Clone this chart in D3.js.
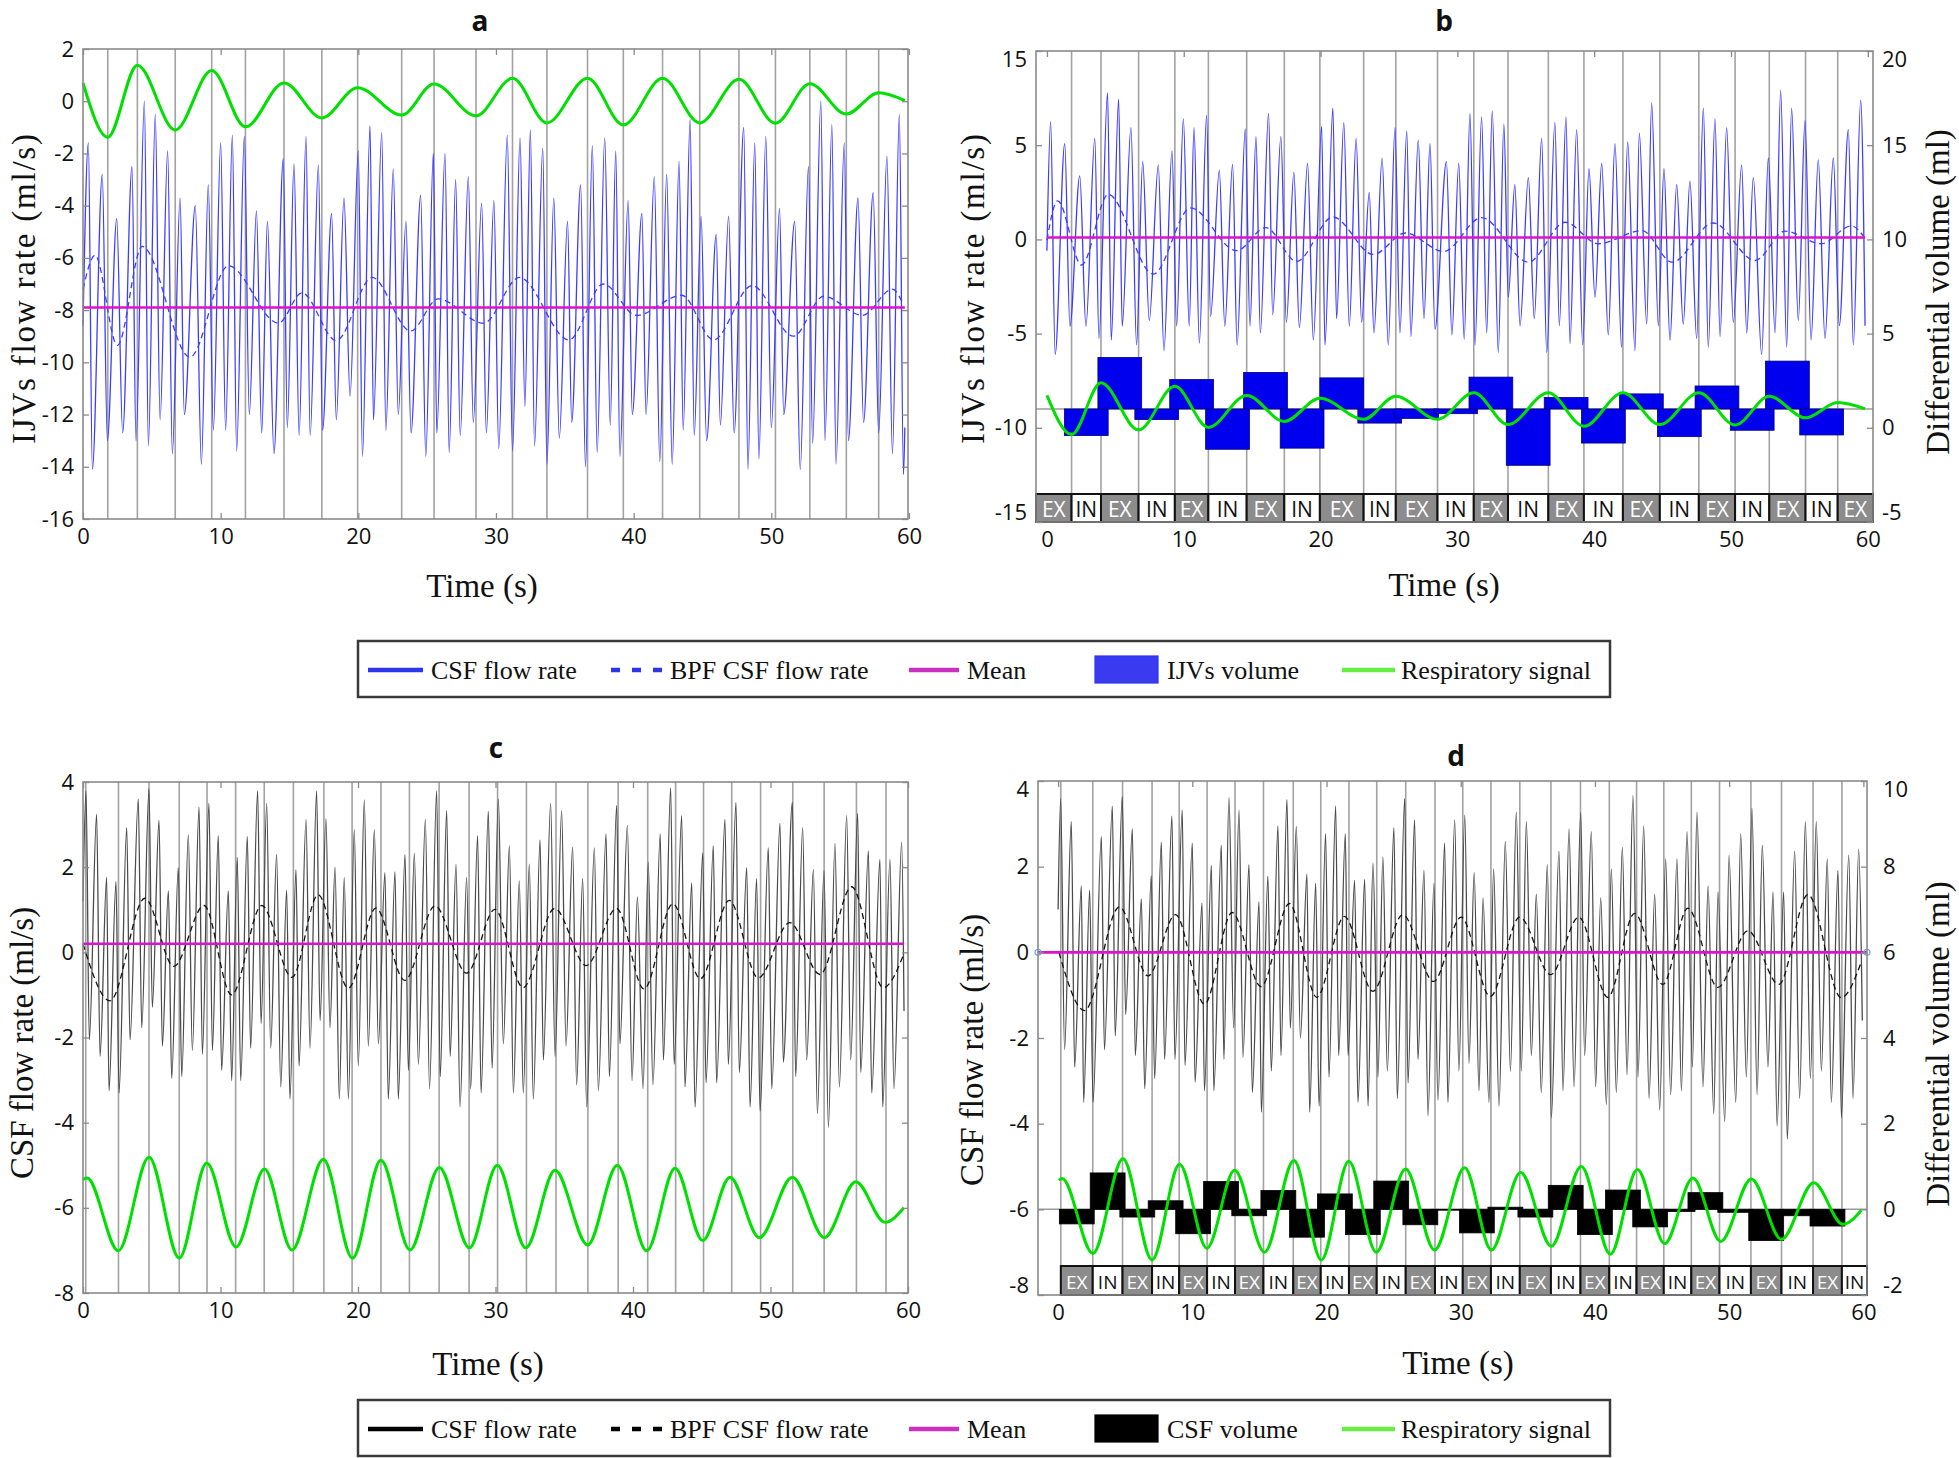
<!DOCTYPE html>
<html>
<head>
<meta charset="utf-8">
<title>IJVs and CSF flow rate vs respiration</title>
<script src="https://cdn.jsdelivr.net/npm/d3@7"></script>
<style>
  body { margin: 0; background: #fff; }
  .tick text { font-family: "Open Sans", sans-serif; font-size: 22px; fill: #111; }
  .axis-title { font-family: "Liberation Serif", serif; font-size: 33px; fill: #111; }
  .panel-title { font-family: "Open Sans", sans-serif; font-size: 28px; font-weight: bold; fill: #111; }
  .legend-text { font-family: "Liberation Serif", serif; font-size: 26px; fill: #111; }
  .strip-text { font-family: "Open Sans", sans-serif; font-size: 20px; }
</style>
</head>
<body>
<svg id="fig" width="1959" height="1458"></svg>
<script>
// ---------- data (time in s) ----------
var xTicks = [0, 10, 20, 30, 40, 50, 60];

// respiratory phase boundaries (grey vertical lines)
var phaseAB = [1.8, 3.95, 6.7, 9.35, 11.8, 14.6, 17.35, 19.95, 23.15, 25.5, 28.55, 31.2, 33.7, 36.65, 39.25, 42.1, 44.8, 47.65, 50.3, 52.8, 55.45, 57.8];
var phaseCD = [0.2, 2.58, 4.8, 7.0, 9.02, 11.1, 13.18, 15.3, 17.52, 19.57, 21.67, 23.74, 25.9, 28.08, 30.15, 32.25, 34.4, 36.72, 38.92, 41.07, 43.1, 45.13, 47.18, 49.28, 51.62, 53.9, 56.25, 58.4];
var phaseNames = ["EX", "IN"];

// panel a: IJVs flow rate (ml/s)
var aYTicks = [-16, -14, -12, -10, -8, -6, -4, -2, 0, 2];
var aFlow = [[0,-8.6],[0.39,-1.6],[0.68,-14.1],[1.4,-2.8],[1.77,-13.0],[2.45,-4.5],[2.88,-12.7],[3.56,-2.5],[3.85,-13.0],[4.46,0.0],[4.75,-13.2],[5.25,-0.5],[5.6,-12.2],[6.15,-1.9],[6.49,-13.5],[7.05,-3.7],[7.36,-12.0],[8.16,-4.0],[8.6,-13.9],[9.1,-3.2],[9.47,-12.6],[10.0,-1.6],[10.36,-12.6],[10.85,-1.3],[11.16,-13.4],[11.72,-1.35],[12.08,-12.0],[12.6,-4.2],[12.98,-12.7],[13.4,-4.6],[13.87,-13.5],[14.55,-2.2],[14.84,-12.5],[15.33,-2.4],[15.7,-12.8],[16.2,-1.35],[16.5,-12.8],[17.1,-2.45],[17.4,-12.6],[18.06,-4.3],[18.4,-12.2],[18.96,-3.7],[19.4,-11.3],[20.0,-1.9],[20.3,-13.6],[20.85,-0.95],[21.1,-12.2],[21.7,-1.2],[22.0,-12.6],[22.54,-2.6],[22.9,-12.0],[23.46,-4.6],[23.83,-12.7],[24.53,-3.6],[24.9,-13.6],[25.45,-2.0],[25.7,-12.7],[26.3,-2.0],[26.6,-13.45],[27.07,-3.0],[27.4,-12.8],[27.99,-2.9],[28.35,-12.3],[28.96,-3.9],[29.3,-12.7],[29.85,-3.8],[30.2,-13.3],[30.82,-1.3],[31.2,-13.4],[31.75,-1.4],[32.1,-11.7],[32.5,-1.1],[32.8,-13.2],[33.4,-1.8],[33.7,-13.9],[34.2,-3.7],[34.6,-12.9],[35.2,-4.6],[35.5,-12.3],[36.15,-3.2],[36.5,-14.0],[37.0,-1.7],[37.35,-13.45],[37.9,-1.4],[38.3,-12.4],[38.7,-1.9],[39.0,-13.6],[39.6,-3.8],[39.9,-12.0],[40.6,-4.3],[40.9,-12.0],[41.5,-2.9],[41.9,-13.8],[42.4,-2.8],[42.8,-13.9],[43.3,-2.3],[43.6,-12.6],[44.1,-0.7],[44.4,-12.8],[44.9,-4.4],[45.3,-13.0],[46.0,-5.1],[46.3,-12.4],[46.9,-4.4],[47.3,-12.7],[48.0,-1.0],[48.3,-14.1],[48.8,-1.6],[49.1,-13.7],[49.6,-1.35],[50.0,-12.5],[50.6,-4.1],[50.9,-12.0],[51.7,-4.6],[52.1,-14.1],[52.7,-2.5],[53.0,-13.1],[53.6,0.0],[53.9,-13.0],[54.4,-0.9],[54.7,-13.9],[55.3,-1.6],[55.6,-13.0],[56.3,-3.7],[56.7,-12.3],[57.4,-3.5],[57.8,-12.7],[58.4,-2.1],[58.8,-13.5],[59.3,-0.5],[59.6,-14.3],[59.7,-12.5]];
var aBpf = [[0,-7.2],[0.87,-5.9],[2.5,-9.35],[4.3,-5.56],[7.77,-9.8],[10.56,-6.3],[14.2,-8.5],[15.9,-7.34],[18.4,-9.17],[21.0,-6.75],[23.8,-8.8],[25.8,-7.57],[29.1,-8.5],[31.7,-6.75],[35.3,-9.14],[37.8,-7.0],[40.2,-8.2],[43.5,-7.43],[45.8,-9.14],[48.6,-7.06],[51.6,-9.0],[53.8,-7.47],[56.6,-8.2],[58.8,-7.2],[59.6,-7.8]];
var aResp = [[0,0.7],[1.8,-1.38],[3.95,1.38],[6.7,-1.1],[9.35,1.18],[11.8,-0.98],[14.6,0.7],[17.35,-0.64],[19.95,0.52],[23.15,-0.53],[25.5,0.66],[28.55,-0.56],[31.2,0.88],[33.7,-0.83],[36.65,0.88],[39.25,-0.91],[42.1,0.88],[44.8,-0.83],[47.65,0.84],[50.3,-0.84],[52.8,0.67],[55.45,-0.49],[57.8,0.32],[59.7,0.02]];
var aMean = -7.9;

// panel b: IJVs flow rate (left) and differential volume (right, ml)
var bYTicks = [-15, -10, -5, 0, 5, 10];
var bYTickLabels = ["-15", "-10", "-5", "0", "5", "15"];
var bY2Ticks = [-5, 0, 5, 10, 15, 20];
var bFlow = [[0,-0.6],[0.27,6.25],[0.6,-6.1],[1.3,5.08],[1.68,-4.6],[2.4,3.37],[2.85,-4.6],[3.5,5.36],[3.8,-5.25],[4.43,7.77],[4.7,-5.34],[5.24,7.44],[5.5,-4.6],[6.14,5.93],[6.55,-5.6],[7.0,4.13],[7.48,-4.3],[8.14,3.94],[8.55,-5.9],[9.14,4.7],[9.48,-4.6],[9.97,6.4],[10.4,-4.6],[10.75,5.93],[11.14,-5.5],[11.67,6.6],[11.96,-4.1],[12.6,3.66],[13.0,-4.6],[13.57,3.98],[13.9,-5.6],[14.5,5.87],[14.84,-4.6],[15.28,5.45],[15.6,-4.96],[16.2,6.69],[16.5,-4.0],[17.1,5.45],[17.5,-4.4],[18.05,3.56],[18.45,-4.68],[19.05,4.03],[19.47,-5.34],[20.08,6.0],[20.32,-5.6],[20.9,6.97],[21.17,-4.2],[21.7,6.2],[22.1,-4.6],[22.6,5.36],[23.0,-4.4],[23.56,2.5],[23.9,-4.96],[24.5,4.3],[24.95,-5.6],[25.44,5.93],[25.8,-4.96],[26.3,5.74],[26.6,-5.15],[27.14,5.27],[27.56,-4.2],[28.0,5.08],[28.36,-4.77],[29.2,4.13],[29.6,-5.06],[30.1,4.03],[30.5,-5.3],[30.92,6.69],[31.29,-5.6],[31.77,6.5],[32.14,-4.96],[32.55,6.82],[32.99,-6.0],[33.4,6.12],[33.72,-3.07],[34.2,2.9],[34.58,-4.58],[35.19,3.28],[35.62,-4.2],[36.16,5.36],[36.53,-6.0],[37.13,6.21],[37.45,-4.58],[37.94,6.5],[38.23,-5.53],[38.72,5.83],[39.16,-5.6],[39.62,3.75],[40.06,-3.07],[40.55,4.03],[41.03,-5.06],[41.52,5.08],[42.0,-5.72],[42.45,5.17],[42.98,-5.9],[43.3,5.64],[43.84,-4.49],[44.2,7.25],[44.69,-4.58],[45.1,3.75],[45.54,-5.34],[46.03,2.9],[46.51,-4.49],[47.0,3.09],[47.49,-5.25],[47.98,6.97],[48.34,-5.72],[48.83,6.4],[49.2,-5.15],[49.68,5.93],[50.17,-4.4],[50.78,3.94],[51.15,-4.96],[51.63,3.28],[52.24,-6.1],[52.73,4.32],[53.22,-4.96],[53.63,7.92],[54.07,-5.72],[54.43,6.97],[54.92,-4.3],[55.41,6.3],[55.85,-5.34],[56.38,4.22],[56.87,-5.25],[57.48,4.32],[57.92,-4.58],[58.58,5.83],[58.94,-5.6],[59.48,7.39],[59.8,-4.58]];
var bBpf = [[0,-0.04],[0.78,2.05],[2.53,-1.36],[4.48,2.39],[7.77,-1.84],[10.5,1.67],[13.86,-0.6],[16.0,0.63],[18.25,-1.17],[20.9,1.19],[23.85,-0.8],[26.2,0.34],[29.0,-0.64],[31.77,1.16],[35.19,-1.21],[37.87,0.91],[40.3,-0.23],[43.5,0.47],[45.7,-1.21],[48.7,0.87],[51.76,-1.12],[53.95,0.44],[56.6,-0.23],[58.8,0.72],[59.7,0.15]];
var bResp = [[0,1.72],[1.8,-0.36],[3.95,2.39],[6.7,-0.11],[9.35,2.2],[11.8,0.02],[14.6,1.72],[17.35,0.34],[19.95,1.57],[23.15,0.45],[25.5,1.67],[28.55,0.45],[31.2,1.86],[33.7,0.17],[36.65,1.86],[39.25,0.08],[42.1,1.86],[44.8,0.17],[47.65,1.86],[50.3,0.15],[52.8,1.67],[55.45,0.53],[57.8,1.34],[59.8,1.0]];
var bMean = 0.1;
var bVolume = [-0.41, 3.73, 0.44, 2.56, -1.14, 2.94, -1.08, 2.65, 0.25, 0.5, 0.75, 2.69, -1.99, 1.61, -0.81, 1.8, -0.47, 2.22, -0.13, 3.54, -0.38];
var bVolumeBase = 1;

// panel c: CSF flow rate (ml/s)
var cdYTicks = [-8, -6, -4, -2, 0, 2, 4];
var cFlow = [[0,1.2],[0.22,3.79],[0.46,-2.05],[0.99,3.24],[1.24,-2.44],[1.72,1.76],[1.89,-3.25],[2.4,1.66],[2.62,-3.3],[3.18,2.93],[3.42,-2.05],[4.02,3.6],[4.27,-1.77],[4.8,3.84],[5.04,-1.29],[5.53,3.1],[5.77,-2.2],[6.21,1.44],[6.45,-2.96],[6.93,1.99],[7.18,-2.92],[7.66,2.76],[7.95,-2.3],[8.44,3.41],[8.68,-2.39],[9.16,3.5],[9.41,-2.3],[9.84,2.74],[10.08,-2.77],[10.57,1.44],[10.81,-3.01],[11.22,2.23],[11.47,-3.01],[11.95,2.72],[12.19,-2.25],[12.7,3.79],[12.95,-1.67],[13.36,3.5],[13.65,-2.25],[14.08,2.3],[14.38,-3.16],[14.81,1.46],[15.05,-3.44],[15.49,1.94],[15.71,-2.67],[16.22,3.12],[16.51,-2.25],[16.99,3.79],[17.24,-1.6],[17.67,3.14],[17.96,-1.77],[18.33,2.0],[18.64,-3.44],[19.0,1.76],[19.3,-3.44],[19.73,2.88],[20.02,-2.67],[20.46,3.58],[20.75,-2.2],[21.19,2.88],[21.48,-2.15],[21.96,1.87],[22.2,-3.44],[22.69,1.89],[22.93,-3.44],[23.42,2.3],[23.66,-2.77],[24.1,2.33],[24.39,-2.63],[24.9,3.12],[25.2,-3.2],[25.72,3.79],[25.98,-2.92],[26.45,3.33],[26.7,-2.44],[27.13,2.07],[27.42,-3.63],[27.9,1.76],[28.19,-3.2],[28.7,2.74],[28.95,-3.3],[29.48,3.31],[29.75,-2.72],[30.21,3.6],[30.57,-2.15],[31.01,2.5],[31.3,-3.3],[31.73,1.68],[32.02,-3.3],[32.46,2.07],[32.75,-3.44],[33.24,2.64],[33.48,-2.53],[34.01,3.5],[34.33,-2.44],[34.81,3.33],[35.13,-2.2],[35.61,2.47],[35.9,-3.11],[36.34,1.73],[36.63,-3.63],[37.19,2.45],[37.48,-3.25],[38.04,2.78],[38.28,-2.92],[38.81,3.45],[39.05,-2.15],[39.59,2.98],[39.93,-3.01],[40.32,1.3],[40.73,-3.2],[41.11,2.11],[41.45,-3.11],[41.98,2.78],[42.21,-2.53],[42.74,3.86],[42.99,-2.63],[43.54,3.21],[43.78,-3.16],[44.27,1.63],[44.51,-3.63],[45.07,2.33],[45.31,-3.06],[45.84,2.5],[46.08,-3.06],[46.69,3.12],[46.93,-2.63],[47.49,3.52],[47.73,-2.82],[48.27,1.99],[48.51,-3.63],[48.99,1.73],[49.24,-3.73],[49.84,2.45],[50.09,-3.2],[50.69,3.03],[50.93,-2.58],[51.59,3.52],[51.83,-2.92],[52.34,2.93],[52.63,-2.53],[53.12,1.95],[53.41,-3.78],[53.89,1.92],[54.21,-4.11],[54.69,2.56],[55.01,-3.16],[55.54,3.21],[55.83,-2.53],[56.34,3.26],[56.56,-2.82],[57.12,2.38],[57.36,-3.3],[57.96,2.18],[58.16,-3.63],[58.69,2.18],[58.98,-3.2],[59.54,2.59],[59.71,-1.38]];
var cBpf = [[0,0.2],[1.96,-1.14],[4.5,1.27],[6.6,-0.33],[8.8,1.1],[10.8,-1.0],[13.0,1.1],[15.2,-0.59],[17.1,1.35],[19.3,-0.84],[21.3,1.04],[23.4,-0.66],[25.6,1.09],[27.9,-0.49],[29.96,1.01],[32.0,-0.83],[34.3,1.03],[36.6,-0.31],[38.8,1.03],[40.8,-0.86],[42.9,1.14],[44.9,-0.62],[47.0,1.22],[49.1,-0.6],[51.4,0.7],[53.6,-0.52],[55.9,1.54],[58.2,-0.83],[59.7,-0.04]];
var cResp = [[0,-5.33],[0.3,-5.3],[2.57,-7.01],[4.8,-4.81],[7.0,-7.18],[9.0,-4.95],[11.13,-6.92],[13.2,-5.09],[15.2,-6.99],[17.48,-4.86],[19.6,-7.18],[21.67,-4.88],[23.78,-6.99],[25.92,-5.05],[28.1,-6.94],[30.13,-5.0],[32.2,-6.94],[34.33,-5.12],[36.7,-6.87],[38.86,-5.0],[41.0,-7.01],[43.06,-5.07],[45.07,-6.77],[47.05,-5.28],[49.19,-6.7],[51.59,-5.28],[53.92,-6.7],[56.2,-5.39],[58.33,-6.34],[59.7,-6.0]];
var cMean = 0.2;

// panel d: CSF flow rate (left) and differential volume (right, ml)
var dY2Ticks = [-2, 0, 2, 4, 6, 8, 10];
var dFlow = [[0,1.0],[0.19,3.59],[0.48,-2.27],[0.98,3.05],[1.23,-2.68],[1.73,1.55],[1.9,-3.5],[2.35,1.45],[2.6,-3.5],[3.22,2.7],[3.45,-2.27],[4.04,3.41],[4.25,-1.95],[4.78,3.64],[5.03,-1.45],[5.53,2.88],[5.75,-2.41],[6.2,1.25],[6.45,-3.18],[6.94,1.79],[7.19,-2.95],[7.69,2.57],[7.93,-2.5],[8.48,3.18],[8.7,-2.5],[9.25,3.32],[9.45,-2.64],[10.0,2.55],[10.2,-3.03],[10.72,1.15],[10.9,-3.23],[11.42,2.03],[11.6,-3.23],[12.16,2.5],[12.35,-2.5],[12.73,3.61],[13.08,-1.77],[13.48,3.32],[13.77,-2.45],[14.22,2.05],[14.47,-3.27],[14.97,1.18],[15.14,-3.73],[15.63,1.77],[15.88,-2.77],[16.38,2.95],[16.6,-2.41],[17.05,3.57],[17.3,-1.77],[17.75,2.94],[18.05,-2.0],[18.54,1.82],[18.74,-3.73],[19.19,1.61],[19.44,-3.59],[19.93,2.77],[20.18,-2.91],[20.68,3.41],[20.9,-2.41],[21.4,2.77],[21.6,-2.41],[22.09,1.68],[22.34,-3.5],[22.84,1.7],[23.09,-3.59],[23.46,2.09],[23.83,-2.91],[24.2,2.23],[24.53,-2.77],[25.02,2.91],[25.27,-3.41],[25.82,3.59],[26.07,-3.05],[26.56,3.09],[26.81,-2.5],[27.26,1.91],[27.56,-3.82],[28.0,1.61],[28.3,-3.45],[28.8,2.55],[29.04,-3.5],[29.55,3.09],[29.86,-2.77],[30.3,3.2],[30.61,-2.59],[31.0,1.86],[31.36,-3.23],[31.66,1.27],[32.1,-3.5],[32.45,1.95],[32.85,-3.59],[33.32,2.59],[33.7,-2.77],[34.14,3.27],[34.51,-2.77],[34.89,3.05],[35.26,-2.41],[35.63,1.36],[36.0,-3.27],[36.45,2.05],[36.75,-3.86],[37.32,2.36],[37.62,-3.23],[38.07,2.88],[38.44,-3.14],[38.94,3.27],[39.23,-2.41],[39.73,2.82],[40.05,-3.14],[40.43,1.27],[40.85,-3.55],[41.22,1.95],[41.59,-3.27],[42.04,2.45],[42.39,-2.86],[42.83,3.66],[43.21,-2.91],[43.63,2.95],[44.03,-3.41],[44.45,1.36],[44.82,-3.68],[45.27,2.18],[45.64,-3.32],[46.11,2.18],[46.44,-3.23],[46.86,2.82],[47.26,-2.68],[47.6,3.27],[48.05,-3.14],[48.43,1.55],[48.85,-3.77],[49.17,1.41],[49.67,-3.95],[49.99,2.27],[50.49,-3.5],[50.86,2.77],[51.28,-2.91],[51.7,3.36],[52.08,-3.32],[52.47,2.5],[52.89,-2.68],[53.27,1.41],[53.57,-4.05],[54.06,1.41],[54.33,-4.36],[54.88,2.36],[55.25,-3.41],[55.68,3.05],[56.05,-2.95],[56.49,3.05],[56.87,-2.77],[57.31,2.18],[57.61,-3.5],[58.11,1.91],[58.36,-3.86],[58.91,2.27],[59.23,-3.41],[59.65,2.41],[59.92,-1.59]];
var dBpf = [[0.06,0],[1.96,-1.36],[4.57,1.06],[6.7,-0.55],[8.75,0.88],[10.9,-1.21],[12.96,0.93],[15.12,-0.8],[17.23,1.14],[19.27,-1.05],[21.33,0.84],[23.45,-0.91],[25.68,0.88],[27.97,-0.68],[30.03,0.82],[32.2,-1.03],[34.39,0.82],[36.7,-0.52],[38.8,0.82],[40.96,-1.05],[42.95,0.91],[45.06,-0.75],[46.92,1.03],[49.16,-0.82],[51.4,0.5],[53.7,-0.75],[55.87,1.35],[58.35,-1.06],[59.84,-0.23]];
var dResp = [[0.06,0.68],[0.3,0.72],[2.59,-1.03],[4.83,1.18],[7.0,-1.18],[9.05,1.05],[11.08,-0.91],[13.15,0.91],[15.38,-1.0],[17.57,1.14],[19.61,-1.18],[21.66,1.12],[23.7,-1.0],[25.89,0.94],[28.05,-0.95],[30.29,0.97],[32.28,-0.95],[34.46,0.86],[36.75,-0.86],[38.98,1.0],[41.15,-1.05],[43.16,0.93],[45.19,-0.8],[47.3,0.73],[49.37,-0.75],[51.65,0.71],[53.89,-0.7],[56.3,0.62],[58.48,-0.35],[59.85,-0.02]];
var dMean = 0;
var dVolume = [-0.34, 0.85, -0.18, 0.2, -0.57, 0.65, -0.15, 0.44, -0.65, 0.36, -0.59, 0.66, -0.36, -0.02, -0.55, 0.05, -0.18, 0.56, -0.59, 0.45, -0.41, -0.05, 0.39, -0.07, -0.73, -0.15, -0.39];
var dVolumeBase = 0;

// legends
var legendTopLabels = ["CSF flow rate", "BPF CSF flow rate", "Mean", "IJVs volume", "Respiratory signal"];
var legendBottomLabels = ["CSF flow rate", "BPF CSF flow rate", "Mean", "CSF volume", "Respiratory signal"];

// ---------- drawing ----------
var svg = d3.select("#fig");
var GREEN = "#00e000", MAGENTA = "#e010d0";
var plainNumber = function(d) { return String(d); };   // hyphen minus, as in the figure

function curveLine(x, y) {
    return d3.line().x(function(d) { return x(d[0]); }).y(function(d) { return y(d[1]); }).curve(d3.curveMonotoneX);
}

function styleAxis(sel) {
    sel.select(".domain").remove();
    sel.selectAll(".tick line").attr("stroke", "#8a8a8a").attr("stroke-width", 1.3);
}

function drawPanel(p) {
    var L = p.box[0], T = p.box[1], R = p.box[2], B = p.box[3];
    var x = d3.scaleLinear().domain(p.xDomain).range([L, R]);
    var y = d3.scaleLinear().domain(p.yDomain).range([B, T]);
    var y2 = p.y2Domain ? d3.scaleLinear().domain(p.y2Domain).range([B, T]) : y;
    var stripTop = p.stripH ? B - p.stripH : B;
    var g = svg.append("g");

    // respiratory phase lines
    g.selectAll("line.phase").data(p.phases).enter().append("line")
        .attr("x1", function(d) { return x(d); }).attr("x2", function(d) { return x(d); })
        .attr("y1", T).attr("y2", stripTop)
        .attr("stroke", "#a2a2a2").attr("stroke-width", 1.6);

    // volume bars
    if (p.volume) {
        var base = p.volumeBase;
        g.append("line").attr("x1", L).attr("x2", R)
            .attr("y1", y2(base)).attr("y2", y2(base))
            .attr("stroke", "#9a9a9a").attr("stroke-width", 1.5);
        var mids = p.volume.map(function(v, i) { return (p.phases[i] + p.phases[i + 1]) / 2; });
        g.selectAll("rect.vol").data(p.volume).enter().append("rect")
            .attr("x", function(d, i) { return x(mids[i] - p.barW / 2); })
            .attr("width", function(d, i) { return x(mids[i] + p.barW / 2) - x(mids[i] - p.barW / 2); })
            .attr("y", function(d) { return y2(Math.max(d, base)); })
            .attr("height", function(d) { return Math.abs(y2(d) - y2(base)); })
            .attr("fill", p.barColor).attr("stroke", p.barStroke).attr("stroke-width", 0.8);
    }

    // flow signal, band-pass filtered signal, mean
    g.append("path").attr("d", curveLine(x, y)(p.flow))
        .attr("fill", "none").attr("stroke", p.flowColor).attr("stroke-width", 1.3);
    g.append("path").attr("d", curveLine(x, y)(p.bpf))
        .attr("fill", "none").attr("stroke", p.bpfColor).attr("stroke-width", 1.3)
        .attr("stroke-dasharray", "6,4");
    g.append("line").attr("x1", x(p.meanFrom)).attr("x2", x(p.meanTo))
        .attr("y1", y(p.mean)).attr("y2", y(p.mean))
        .attr("stroke", MAGENTA).attr("stroke-width", 2.6);
    if (p.meanMarkers) {
        g.selectAll("circle.mm").data([p.meanFrom, p.meanTo]).enter().append("circle")
            .attr("cx", function(d) { return x(d); }).attr("cy", y(p.mean)).attr("r", 3)
            .attr("fill", "none").attr("stroke", "#6fa8dc").attr("stroke-width", 1.2);
    }

    // respiratory signal
    var yr = p.respOnRight ? y2 : y;
    g.append("path").attr("d", curveLine(x, yr)(p.resp))
        .attr("fill", "none").attr("stroke", GREEN).attr("stroke-width", 3);

    // EX / IN strip
    if (p.stripH) {
        var edges = (p.stripFromFrame ? [p.xDomain[0]] : []).concat(p.phases, [p.xDomain[1]]);
        var cells = d3.range(edges.length - 1).map(function(i) {
            return { a: edges[i], b: edges[i + 1], name: phaseNames[i % 2] };
        });
        var cg = g.selectAll("g.cell").data(cells).enter().append("g");
        cg.append("rect")
            .attr("x", function(d) { return x(d.a); }).attr("y", stripTop)
            .attr("width", function(d) { return x(d.b) - x(d.a); }).attr("height", p.stripH)
            .attr("fill", function(d) { return d.name === "EX" ? "#8c8c8c" : "#fff"; })
            .attr("stroke", "#111").attr("stroke-width", 2);
        cg.append("text").attr("class", "strip-text")
            .attr("x", function(d) { return (x(d.a) + x(d.b)) / 2; })
            .attr("y", stripTop + p.stripH / 2 + 1)
            .attr("text-anchor", "middle").attr("dominant-baseline", "central")
            .style("font-size", p.stripFont + "px")
            .attr("fill", function(d) { return d.name === "EX" ? "#fff" : "#111"; })
            .text(function(d) { return d.name; })
            .each(function(d) {
                var room = x(d.b) - x(d.a) - 3;
                if (this.getComputedTextLength() > room) {
                    d3.select(this).attr("textLength", room).attr("lengthAdjust", "spacingAndGlyphs");
                }
            });
    }

    // frame
    g.append("rect").attr("x", L).attr("y", T).attr("width", R - L).attr("height", B - T)
        .attr("fill", "none").attr("stroke", "#8a8a8a").attr("stroke-width", 1.6);

    // axes (inward ticks)
    var axL = d3.axisLeft(y).tickValues(p.yTicks).tickSize(-6).tickPadding(9).tickFormat(plainNumber);
    if (p.yTickLabels) axL.tickFormat(function(d, i) { return p.yTickLabels[i]; });
    var gl = g.append("g").attr("transform", "translate(" + L + ",0)").call(axL).call(styleAxis);

    var gr;
    if (p.y2Domain) {
        gr = g.append("g").attr("transform", "translate(" + R + ",0)")
            .call(d3.axisRight(y2).tickValues(p.y2Ticks).tickSize(-6).tickPadding(p.rightPad).tickFormat(plainNumber))
            .call(styleAxis);
    } else {
        g.append("g").attr("transform", "translate(" + R + ",0)")
            .call(d3.axisRight(y).tickValues(p.yTicks).tickSize(-6).tickFormat(""))
            .call(styleAxis);
    }
    if (p.nudgeEnds) {
        [gl, gr].forEach(function(ax) {
            var t = ax.selectAll(".tick text").nodes();
            d3.select(t[0]).attr("dy", "-0.1em");
            d3.select(t[t.length - 1]).attr("dy", "0.7em");
        });
    }
    g.append("g").attr("transform", "translate(0," + T + ")")
        .call(d3.axisTop(x).tickValues(xTicks).tickSize(-6).tickFormat(""))
        .call(styleAxis);
    g.append("g").attr("transform", "translate(0," + B + ")")
        .call(d3.axisBottom(x).tickValues(xTicks).tickSize(p.stripH ? 0 : -6).tickPadding(9).tickFormat(plainNumber))
        .call(styleAxis);

    // titles
    svg.append("text").attr("class", "panel-title").attr("x", p.title[1]).attr("y", p.title[2])
        .attr("text-anchor", "middle").text(p.title[0]);
    svg.append("text").attr("class", "axis-title").attr("x", p.xLabel[0]).attr("y", p.xLabel[1])
        .attr("text-anchor", "middle").text("Time (s)");
    var yl = svg.append("text").attr("class", "axis-title")
        .attr("transform", "translate(" + p.yLabel[1] + "," + p.yLabel[2] + ") rotate(-90)")
        .attr("text-anchor", "middle").attr("dominant-baseline", "central").text(p.yLabel[0]);
    if (p.yLabel[3]) yl.attr("textLength", p.yLabel[3]).attr("lengthAdjust", "spacing");
    if (p.y2Label) {
        svg.append("text").attr("class", "axis-title")
            .attr("transform", "translate(" + p.y2Label[1] + "," + p.y2Label[2] + ") rotate(-90)")
            .attr("text-anchor", "middle").attr("dominant-baseline", "central").text(p.y2Label[0]);
    }
}

drawPanel({
    box: [83, 49, 908, 519], xDomain: [0, 59.93], yDomain: [-16, 2], yTicks: aYTicks,
    phases: phaseAB, flow: aFlow, bpf: aBpf, resp: aResp, mean: aMean, meanFrom: 0, meanTo: 59.7,
    flowColor: "#3c3cff", bpfColor: "#3c3cff",
    title: ["a", 480, 31], xLabel: [482, 597], yLabel: ["IJVs  flow rate (ml/s)", 24, 289, 310]
});

drawPanel({
    box: [1036, 51, 1873, 522], xDomain: [-0.8, 60.38], yDomain: [-15, 10], yTicks: bYTicks,
    yTickLabels: bYTickLabels, y2Domain: [-5, 20], y2Ticks: bY2Ticks, rightPad: 9, nudgeEnds: true,
    phases: phaseAB, flow: bFlow, bpf: bBpf, resp: bResp, respOnRight: true,
    mean: bMean, meanFrom: 0, meanTo: 59.8,
    volume: bVolume, volumeBase: bVolumeBase, barW: 3.2, barColor: "#0000ee", barStroke: "#00007a",
    stripH: 28, stripFromFrame: true, stripFont: 21,
    flowColor: "#3c3cff", bpfColor: "#3c3cff",
    title: ["b", 1444, 31], xLabel: [1444, 596], yLabel: ["IJVs  flow rate (ml/s)", 973, 289, 310],
    y2Label: ["Differential volume (ml)", 1938, 292]
});

drawPanel({
    box: [83, 782, 908, 1293], xDomain: [0, 60], yDomain: [-8, 4], yTicks: cdYTicks,
    phases: phaseCD, flow: cFlow, bpf: cBpf, resp: cResp, mean: cMean, meanFrom: 0, meanTo: 59.7,
    flowColor: "#4a4a4a", bpfColor: "#111",
    title: ["c", 496, 758], xLabel: [488, 1375], yLabel: ["CSF flow rate (ml/s)", 22, 1043]
});

drawPanel({
    box: [1038, 781, 1867, 1295], xDomain: [-1.5, 60.27], yDomain: [-8, 4], yTicks: cdYTicks,
    y2Domain: [-2, 10], y2Ticks: dY2Ticks, rightPad: 16, nudgeEnds: true,
    phases: phaseCD, flow: dFlow, bpf: dBpf, resp: dResp, respOnRight: true,
    mean: dMean, meanFrom: -1.5, meanTo: 60.27, meanMarkers: true,
    volume: dVolume, volumeBase: dVolumeBase, barW: 2.6, barColor: "#000", barStroke: "#000",
    stripH: 29, stripFromFrame: false, stripFont: 19,
    flowColor: "#4a4a4a", bpfColor: "#111",
    title: ["d", 1456, 766], xLabel: [1458, 1374], yLabel: ["CSF flow rate (ml/s)", 972, 1050],
    y2Label: ["Differential volume (ml)", 1938, 1044]
});

// ---------- legends ----------
var legendSlots = [
    { kind: "line", x0: 368, x1: 423, tx: 431 },
    { kind: "dash", x0: 611, x1: 666, tx: 670 },
    { kind: "mean", x0: 909, x1: 959, tx: 967 },
    { kind: "box", x0: 1095, x1: 1158, tx: 1167 },
    { kind: "resp", x0: 1342, x1: 1395, tx: 1401 }
];

function drawLegend(top, labels, color, boxColor) {
    var lg = svg.append("g");
    lg.append("rect").attr("x", 358).attr("y", top).attr("width", 1252).attr("height", 56)
        .attr("fill", "#fff").attr("stroke", "#3a3a3a").attr("stroke-width", 2.5);
    var cy = top + 29;
    legendSlots.forEach(function(s, i) {
        if (s.kind === "box") {
            lg.append("rect").attr("x", s.x0).attr("y", cy - 14).attr("width", s.x1 - s.x0).attr("height", 27)
                .attr("fill", boxColor).attr("stroke", color).attr("stroke-width", 1.2);
        } else {
            var c = s.kind === "mean" ? "#cc30c0" : s.kind === "resp" ? "#66ee44" : color;
            var ln = lg.append("line").attr("x1", s.x0).attr("x2", s.x1).attr("y1", cy).attr("y2", cy)
                .attr("stroke", c).attr("stroke-width", 4.5);
            if (s.kind === "dash") ln.attr("stroke-dasharray", "9,12");
        }
        lg.append("text").attr("class", "legend-text").attr("x", s.tx).attr("y", cy)
            .attr("dominant-baseline", "central").text(labels[i]);
    });
}

drawLegend(641, legendTopLabels, "#2b36ea", "#3a3af0");
drawLegend(1400, legendBottomLabels, "#000", "#000");
</script>
</body>
</html>
